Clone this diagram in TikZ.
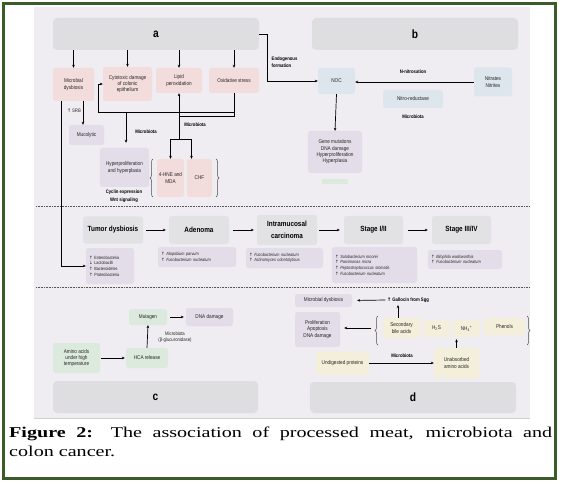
\documentclass[tikz,border=0pt]{standalone}
\usepackage{fontspec}
\setmainfont{Liberation Serif}
\newfontfamily\dfont[FakeStretch=0.85]{Liberation Sans}
\newfontfamily\symf{DejaVu Sans}
\newfontfamily\capfont[FakeStretch=1.34]{Liberation Serif}
\newcommand\myup{{\symf ↑}}
\newcommand\mydown{{\symf ↓}}
\usetikzlibrary{arrows.meta,decorations.pathreplacing}
\definecolor{bgc}{HTML}{EFEDF1}
\definecolor{grayc}{HTML}{DEDDDF}
\definecolor{pinkc}{HTML}{F2DCDC}
\definecolor{lavc}{HTML}{E2DDE8}
\definecolor{bluec}{HTML}{DCE6EC}
\definecolor{greenc}{HTML}{DBEADD}
\definecolor{yelc}{HTML}{F3EFDA}
\definecolor{stagec}{HTML}{E2E1E3}
\definecolor{framec}{HTML}{3B5B2A}
\definecolor{dotc}{HTML}{555555}
\begin{document}
\begin{tikzpicture}[x=1pt,y=-1pt,
  bx/.style={rounded corners=2.5pt, inner sep=0pt, align=center, text=black!85,
    font=\dfont\fontsize{5.5}{6.3}\selectfont},
  sz/.style 2 args={minimum width=#1pt, minimum height=#2pt},
  pink/.style={bx, fill=pinkc},
  lav/.style={bx, fill=lavc},
  blue/.style={bx, fill=bluec},
  green/.style={bx, fill=greenc},
  yel/.style={bx, fill=yelc},
  stg/.style={bx, fill=stagec, text=black, font=\dfont\bfseries\fontsize{7.5}{12}\selectfont},
  lst/.style 2 args={bx, fill=lavc, align=left, inner xsep=3pt, text width=#1pt,
    minimum height=#2pt, font=\dfont\fontsize{4.5}{5.6}\selectfont},
  big/.style={rounded corners=4pt, fill=grayc, inner sep=0pt, text=black,
    font=\dfont\bfseries\fontsize{12}{12}\selectfont},
  lbl/.style={inner sep=0.5pt, text=black, font=\dfont\bfseries\fontsize{5}{6.5}\selectfont},
  lbln/.style={inner sep=0.5pt, text=black!85, font=\dfont\fontsize{5}{6.5}\selectfont},
  arr/.style={-{Stealth[length=3pt,width=2.6pt]}, line width=0.7pt},
  ln/.style={line width=0.7pt},
  brc/.style={decorate, decoration={brace, amplitude=3pt}, line width=0.5pt, draw=black!70},
  dotl/.style={draw=dotc, line width=0.6pt, dash pattern=on 0.8pt off 0.8pt}
]
\useasboundingbox (0,0) rectangle (564,486);
\fill[white] (0,0) rectangle (564,486);
\fill[bgc] (34,7) rectangle (530,418);
\draw[black!18, line width=1pt] (34,418) -- (530,418);

% ---------- section a ----------
\node[big, sz={206}{32}] (A) at (156,34) {a};
\node[big, sz={206}{32}] (B) at (415,34) {b};
\node[pink, sz={41}{33}] (md) at (73.5,84.5) {Microbial\\dysbiosis};
\node[pink, sz={49}{34}] (cyto) at (127.5,84) {Cytotoxic damage\\of colonic\\epithelium};
\node[pink, sz={46}{25}] (lip) at (179,80.5) {Lipid\\peroxidation};
\node[pink, sz={50}{25}] (oxi) at (234,80.5) {Oxidative stress};
\draw[arr] (A.south -| md) -- (md.north);
\draw[arr] (A.south -| cyto) -- (cyto.north);
\draw[arr] (A.south -| lip) -- (lip.north);
\draw[arr] (A.south -| oxi) -- (oxi.north);

% ---------- section b ----------
\node[blue, sz={37}{26}] (noc) at (336.5,81) {NOC};
\node[blue, sz={38}{29}] (nit) at (493,82) {Nitrates\\Nitrites};
\node[blue, sz={60}{18}] (nred) at (413,99) {Nitro-reductase};
\node[lav, sz={54}{42}] (gene) at (335,152) {Gene mutations\\DNA damage\\Hyperproliferation\\Hyperplasia};
\fill[greenc] (322,179) rectangle (348,184);
\coordinate (e1) at (267,34);
\draw[arr] (A.east) -- (e1) -- (e1 |- noc.west) -- (noc.west);
\node[lbl, align=left, anchor=west] (endo) at (271,62) {Endogenous\\formation};
\draw[arr] (nit.west) -- (nit.west -| noc.east);
\node[lbl] (nnit) at (413,72) {N-nitrosation};
\node[lbl] (mb1) at (413,117) {Microbiota};
\draw[arr] (noc.south) -- (gene.north);

% ---------- left part of a ----------
\node[lav, sz={35}{20}] (muc) at (86.5,135) {Mucolytic};
\draw[arr] ([xshift=9.5pt]md.south) -- ([xshift=9.5pt]md.south |- muc.north);
\node[lbln] (srb) at (74,111) {\myup\,SRB};
\node[lav, sz={49}{39}] (hyp) at (124.5,167.5) {Hyperproliferation\\and hyperplasia};
\node[pink, sz={27}{38}] (hne) at (170.5,178) {4-HNE and\\MDA};
\node[pink, sz={25}{38}] (chf) at (199.5,178) {CHF};
\coordinate (o1) at (234,116);
\coordinate (o2) at (179,116);
\draw[ln] (oxi.south) -- (o1) -- (o2);
\coordinate (l1) at (234,112);
\coordinate (l2) at (98,112);
\coordinate (l3) at (98,84);
\draw[arr] (l1) -- (l2) -- (l3) -- (cyto.west);
\coordinate (br) at (179,139);
\draw[arr] (br) -- (lip.south);
\draw[arr] (br) -| (hne.north);
\draw[arr] (br) -| ([xshift=-8pt]chf.north);
\coordinate (h1) at (126,112);
\draw[arr, shorten >=5pt] (h1) -- (h1 |- hyp.north);
\node[lbl] (mb2) at (146,132) {Microbiota};
\node[lbl] (mb3) at (195,125) {Microbiota};
\node[lbl, align=center, font=\dfont\bfseries\fontsize{5}{8}\selectfont] (cyc) at (124,196) {Cyclin expression\\Wnt signaling};
\draw[brc] (153,197) -- (153,159);
\draw[brc] (216,159) -- (216,197);

% ---------- separators ----------
\draw[dotl] (36,206) -- (530,206);
\draw[dotl] (36,287) -- (530,287);

% ---------- middle row ----------
\node[stg, sz={60}{27}] (td) at (113,230) {Tumor dysbiosis};
\node[lst={42}{36}] (tdl) at (110,266) {\myup\ Enterobacteria\\\mydown\ Lactobacilli\\\myup\ Bacteroidetes\\\myup\ Proteobacteria};
\node[stg, sz={60}{28}] (ad) at (199,230) {Adenoma};
\node[lst={72}{20}] (adl) at (197,257) {\myup\ \textit{Atopobium parvum}\\\myup\ \textit{Fusobacterium nucleatum}};
\node[stg, sz={60}{30}] (ic) at (287,230) {Intramucosal\\carcinoma};
\node[lst={71}{20}] (icl) at (284.5,258) {\myup\ \textit{Fusobacterium nucleatum}\\\myup\ \textit{Actinomyces odontolyticus}};
\node[stg, sz={59}{28}] (s12) at (373.5,230) {Stage I/II};
\node[lst={79}{36}] (s12l) at (374.5,265) {\myup\ \textit{Solobacterium moorei}\\\myup\ \textit{Parvimonas micra}\\\myup\ \textit{Peptostreptococcus stomatis}\\\myup\ \textit{Fusobacterium nucleatum}};
\node[stg, sz={59}{28}] (s34) at (461.5,230) {Stage III/IV};
\node[lst={68}{19}] (s34l) at (465,259.5) {\myup\ \textit{Bilophila wadsworthia}\\\myup\ \textit{Fusobacterium nucleatum}};
\draw[arr, shorten <=3pt, shorten >=3pt] (td.east) -- (ad.west);
\draw[arr, shorten <=4pt, shorten >=3pt] (ad.east) -- (ic.west);
\draw[arr, shorten <=2pt, shorten >=4pt] (ic.east) -- (s12.west);
\draw[arr, shorten <=5pt, shorten >=4pt] (s12.east) -- (s34.west);
\coordinate (lv) at (61,266);
\draw[arr] ([xshift=-12.5pt]md.south) -- (lv) -- (tdl.west);

% ---------- section c ----------
\node[green, sz={38}{16}] (mut) at (148,317) {Mutagen};
\node[lav, sz={47}{18}] (dna) at (209.5,317) {DNA damage};
\node[green, sz={47}{30}] (aa) at (76.5,358) {Amino acids\\under high\\temperature};
\node[green, sz={42}{20}] (hca) at (147,358) {HCA release};
\node[big, sz={205}{32}] (C) at (155.5,397) {c};
\draw[arr, shorten <=3pt, shorten >=2pt] (mut.east) -- (dna.west);
\draw[arr, shorten <=1pt, shorten >=1pt] (aa.east) -- (hca.west);
\draw[arr] (hca.north) -- (mut.south);
\node[lbln, align=center] (mb4) at (175,337) {Microbiota\\(β-glucuronidase)};

% ---------- section d ----------
\node[lav, sz={57}{13}] (mdd) at (323.5,300.5) {Microbial dysbiosis};
\node[lbl] (gal) at (408,300) {\myup\ Gallocin from Sgg};
\node[lav, sz={45}{35}] (prol) at (317.5,329.5) {Proliferation\\Apoptosis\\DNA damage};
\node[yel, sz={37}{20}] (sba) at (401.5,328) {Secondary\\bile acids};
\node[yel, sz={27}{17}] (h2s) at (436.5,328.5) {H\textsubscript{2}S};
\node[yel, sz={27}{17}] (nh4) at (466.5,328.5) {NH\textsubscript{4}\textsuperscript{+}};
\node[yel, sz={41}{17}] (phe) at (504.5,326.5) {Phenols};
\node[yel, sz={53}{23}] (und) at (342.5,363) {Undigested proteins};
\node[yel, sz={45}{30}] (una) at (456.5,363) {Unabsorbed\\amino acids};
\node[big, sz={206}{31}] (D) at (413,397.5) {d};
\draw[arr, shorten <=1pt, shorten >=5pt] (gal.west) -- (mdd.east);
\draw[arr, shorten >=2pt] ([xshift=-3.5pt]sba.north) -- ([xshift=-3.5pt]sba.north |- gal.south);
\draw[brc] (378,345) -- (378,316);
\draw[brc] (527,316) -- (527,345);
\coordinate (bl) at (371,328);
\draw[arr, shorten >=4pt] (bl) -- (bl -| prol.east);
\draw[arr] (und.east) -- (una.west);
\node[lbl] (mb5) at (402,356) {Microbiota};
\draw[arr, shorten >=2pt] (una.north) -- (una.north |- nh4.south);

% ---------- frame and caption ----------
\draw[framec, line width=3pt] (3.5,3.5) rectangle (555,478);
\node[anchor=north west, text width=543pt, align=justify, inner sep=0pt,
  font=\capfont\fontsize{15}{19}\selectfont] (cap) at (9,427)
  {\textbf{Figure 2:} The association of processed meat, microbiota and\linebreak colon cancer.};
\end{tikzpicture}
\end{document}
